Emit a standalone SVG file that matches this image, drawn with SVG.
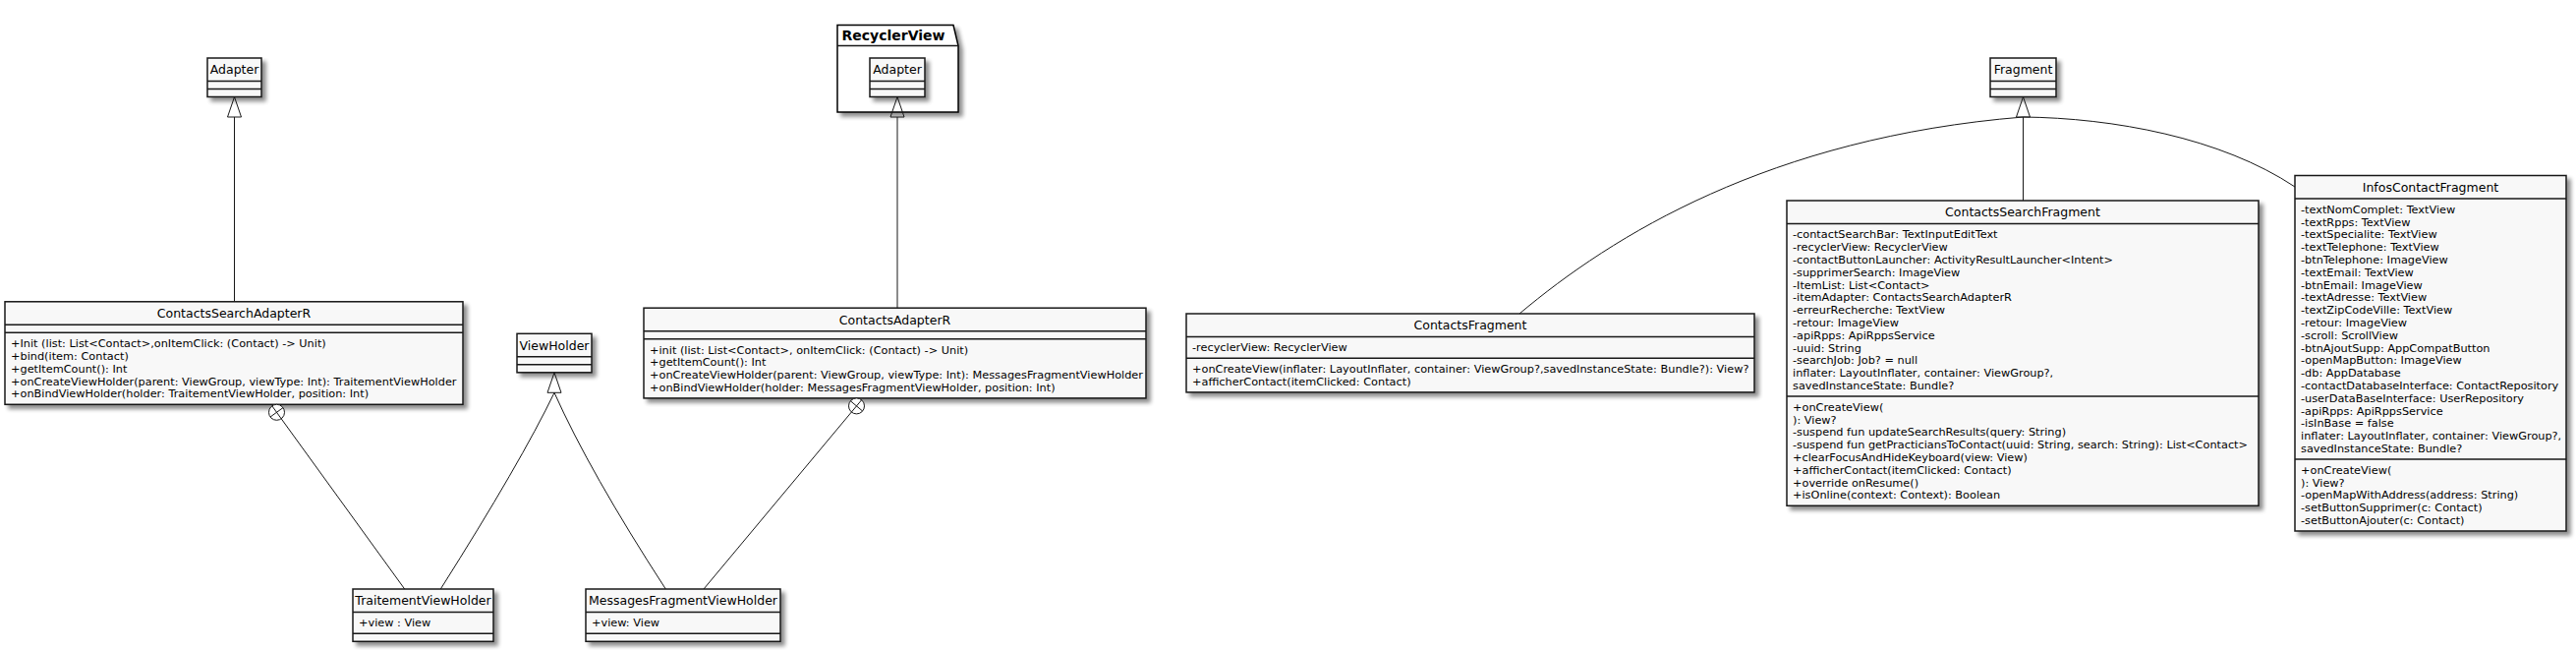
<svg xmlns="http://www.w3.org/2000/svg" width="2621" height="661" viewBox="0 0 2621 661">
<defs>
<filter id="sh" x="-10%" y="-10%" width="130%" height="140%">
<feGaussianBlur in="SourceAlpha" stdDeviation="2"/>
<feOffset dx="4" dy="4" result="o"/>
<feComponentTransfer><feFuncA type="linear" slope="0.45"/></feComponentTransfer>
<feMerge><feMergeNode/><feMergeNode in="SourceGraphic"/></feMerge>
</filter>
<style>
.box{fill:#F8F8F8;stroke:#181818;stroke-width:1.5}
.dv{stroke:#181818;stroke-width:1.5}
.nm{font-family:"DejaVu Sans",sans-serif;font-size:12.5px;text-anchor:middle;fill:#000}
.mb{font-family:"DejaVu Sans",sans-serif;font-size:11.3px;fill:#000}
.ln{fill:none;stroke:#181818;stroke-width:1}
.ah{fill:none;stroke:#181818;stroke-width:1}
.pk{fill:#FFFFFF;stroke:#000;stroke-width:1.5}
.pt{font-family:"DejaVu Sans",sans-serif;font-size:14px;font-weight:bold;fill:#000}
</style>
</defs>
<rect width="2621" height="661" fill="#FFFFFF"/>

<g id="pkg-RecyclerView">
<path class="pk" filter="url(#sh)" d="M852,25.5 L970,25.5 L975,46.5 L975,114 L852,114 Z"/>
<line class="dv" x1="852" y1="46.5" x2="975" y2="46.5"/>
<text class="pt" x="856.5" y="40.5">RecyclerView</text>
</g>

<g id="Adapter">
<rect class="box" filter="url(#sh)" x="211" y="59" width="55" height="39.5"/>
<line class="dv" x1="211" y1="82.5" x2="266" y2="82.5"/>
<line class="dv" x1="211" y1="90.5" x2="266" y2="90.5"/>
<text class="nm" x="238.5" y="75.3">Adapter</text>
</g>

<g id="RecyclerView.Adapter">
<rect class="box" filter="url(#sh)" x="885" y="59" width="56" height="39.5"/>
<line class="dv" x1="885" y1="82.5" x2="941" y2="82.5"/>
<line class="dv" x1="885" y1="90.5" x2="941" y2="90.5"/>
<text class="nm" x="913" y="75.3">Adapter</text>
</g>

<g id="Fragment">
<rect class="box" filter="url(#sh)" x="2025" y="59" width="67" height="39.5"/>
<line class="dv" x1="2025" y1="82.5" x2="2092" y2="82.5"/>
<line class="dv" x1="2025" y1="90.5" x2="2092" y2="90.5"/>
<text class="nm" x="2058.5" y="75.3">Fragment</text>
</g>

<g id="ViewHolder">
<rect class="box" filter="url(#sh)" x="526" y="339.3" width="76" height="39.5"/>
<line class="dv" x1="526" y1="362.8" x2="602" y2="362.8"/>
<line class="dv" x1="526" y1="370.8" x2="602" y2="370.8"/>
<text class="nm" x="564" y="355.6">ViewHolder</text>
</g>

<g id="ContactsSearchAdapterR">
<rect class="box" filter="url(#sh)" x="5" y="306.8" width="466" height="104.5"/>
<line class="dv" x1="5" y1="330.3" x2="471" y2="330.3"/>
<line class="dv" x1="5" y1="338.3" x2="471" y2="338.3"/>
<text class="nm" x="238" y="323.1">ContactsSearchAdapterR</text>
<text class="mb" x="11" y="353.1">+Init (list: List&lt;Contact&gt;,onItemClick: (Contact) -&gt; Unit)</text>
<text class="mb" x="11" y="365.9">+bind(item: Contact)</text>
<text class="mb" x="11" y="378.7">+getItemCount(): Int</text>
<text class="mb" x="11" y="391.5">+onCreateViewHolder(parent: ViewGroup, viewType: Int): TraitementViewHolder</text>
<text class="mb" x="11" y="404.3">+onBindViewHolder(holder: TraitementViewHolder, position: Int)</text>
</g>

<g id="ContactsAdapterR">
<rect class="box" filter="url(#sh)" x="655" y="313.2" width="511" height="91.7"/>
<line class="dv" x1="655" y1="336.7" x2="1166" y2="336.7"/>
<line class="dv" x1="655" y1="344.7" x2="1166" y2="344.7"/>
<text class="nm" x="910.5" y="329.5">ContactsAdapterR</text>
<text class="mb" x="661" y="359.5">+init (list: List&lt;Contact&gt;, onItemClick: (Contact) -&gt; Unit)</text>
<text class="mb" x="661" y="372.3">+getItemCount(): Int</text>
<text class="mb" x="661" y="385.1">+onCreateViewHolder(parent: ViewGroup, viewType: Int): MessagesFragmentViewHolder</text>
<text class="mb" x="661" y="397.9">+onBindViewHolder(holder: MessagesFragmentViewHolder, position: Int)</text>
</g>

<g id="TraitementViewHolder">
<rect class="box" filter="url(#sh)" x="359" y="599" width="143" height="53.3"/>
<line class="dv" x1="359" y1="622.5" x2="502" y2="622.5"/>
<line class="dv" x1="359" y1="644.3" x2="502" y2="644.3"/>
<text class="nm" x="430.5" y="615.3">TraitementViewHolder</text>
<text class="mb" x="365" y="637.3">+view : View</text>
</g>

<g id="MessagesFragmentViewHolder">
<rect class="box" filter="url(#sh)" x="596" y="599" width="198" height="53.3"/>
<line class="dv" x1="596" y1="622.5" x2="794" y2="622.5"/>
<line class="dv" x1="596" y1="644.3" x2="794" y2="644.3"/>
<text class="nm" x="695" y="615.3">MessagesFragmentViewHolder</text>
<text class="mb" x="602" y="637.3">+view: View</text>
</g>

<g id="ContactsFragment">
<rect class="box" filter="url(#sh)" x="1207" y="319" width="578" height="79.9"/>
<line class="dv" x1="1207" y1="342.5" x2="1785" y2="342.5"/>
<line class="dv" x1="1207" y1="364.3" x2="1785" y2="364.3"/>
<text class="nm" x="1496" y="335.3">ContactsFragment</text>
<text class="mb" x="1213" y="357.3">-recyclerView: RecyclerView</text>
<text class="mb" x="1213" y="379.1">+onCreateView(inflater: LayoutInflater, container: ViewGroup?,savedInstanceState: Bundle?): View?</text>
<text class="mb" x="1213" y="391.9">+afficherContact(itemClicked: Contact)</text>
</g>

<g id="ContactsSearchFragment">
<rect class="box" filter="url(#sh)" x="1818" y="204" width="480" height="310.3"/>
<line class="dv" x1="1818" y1="227.5" x2="2298" y2="227.5"/>
<line class="dv" x1="1818" y1="402.9" x2="2298" y2="402.9"/>
<text class="nm" x="2058" y="220.3">ContactsSearchFragment</text>
<text class="mb" x="1824" y="242.3">-contactSearchBar: TextInputEditText</text>
<text class="mb" x="1824" y="255.1">-recyclerView: RecyclerView</text>
<text class="mb" x="1824" y="267.9">-contactButtonLauncher: ActivityResultLauncher&lt;Intent&gt;</text>
<text class="mb" x="1824" y="280.7">-supprimerSearch: ImageView</text>
<text class="mb" x="1824" y="293.5">-ItemList: List&lt;Contact&gt;</text>
<text class="mb" x="1824" y="306.3">-itemAdapter: ContactsSearchAdapterR</text>
<text class="mb" x="1824" y="319.1">-erreurRecherche: TextView</text>
<text class="mb" x="1824" y="331.9">-retour: ImageView</text>
<text class="mb" x="1824" y="344.7">-apiRpps: ApiRppsService</text>
<text class="mb" x="1824" y="357.5">-uuid: String</text>
<text class="mb" x="1824" y="370.3">-searchJob: Job? = null</text>
<text class="mb" x="1824" y="383.1">inflater: LayoutInflater, container: ViewGroup?,</text>
<text class="mb" x="1824" y="395.9">savedInstanceState: Bundle?</text>
<text class="mb" x="1824" y="417.7">+onCreateView(</text>
<text class="mb" x="1824" y="430.5">): View?</text>
<text class="mb" x="1824" y="443.3">-suspend fun updateSearchResults(query: String)</text>
<text class="mb" x="1824" y="456.1">-suspend fun getPracticiansToContact(uuid: String, search: String): List&lt;Contact&gt;</text>
<text class="mb" x="1824" y="468.9">+clearFocusAndHideKeyboard(view: View)</text>
<text class="mb" x="1824" y="481.7">+afficherContact(itemClicked: Contact)</text>
<text class="mb" x="1824" y="494.5">+override onResume()</text>
<text class="mb" x="1824" y="507.3">+isOnline(context: Context): Boolean</text>
</g>

<g id="InfosContactFragment">
<rect class="box" filter="url(#sh)" x="2335" y="178.5" width="276" height="361.5"/>
<line class="dv" x1="2335" y1="202" x2="2611" y2="202"/>
<line class="dv" x1="2335" y1="467" x2="2611" y2="467"/>
<text class="nm" x="2473" y="194.8">InfosContactFragment</text>
<text class="mb" x="2341" y="216.8">-textNomComplet: TextView</text>
<text class="mb" x="2341" y="229.6">-textRpps: TextView</text>
<text class="mb" x="2341" y="242.4">-textSpecialite: TextView</text>
<text class="mb" x="2341" y="255.2">-textTelephone: TextView</text>
<text class="mb" x="2341" y="268">-btnTelephone: ImageView</text>
<text class="mb" x="2341" y="280.8">-textEmail: TextView</text>
<text class="mb" x="2341" y="293.6">-btnEmail: ImageView</text>
<text class="mb" x="2341" y="306.4">-textAdresse: TextView</text>
<text class="mb" x="2341" y="319.2">-textZipCodeVille: TextView</text>
<text class="mb" x="2341" y="332">-retour: ImageView</text>
<text class="mb" x="2341" y="344.8">-scroll: ScrollView</text>
<text class="mb" x="2341" y="357.6">-btnAjoutSupp: AppCompatButton</text>
<text class="mb" x="2341" y="370.4">-openMapButton: ImageView</text>
<text class="mb" x="2341" y="383.2">-db: AppDatabase</text>
<text class="mb" x="2341" y="396">-contactDatabaseInterface: ContactRepository</text>
<text class="mb" x="2341" y="408.8">-userDataBaseInterface: UserRepository</text>
<text class="mb" x="2341" y="421.6">-apiRpps: ApiRppsService</text>
<text class="mb" x="2341" y="434.4">-isInBase = false</text>
<text class="mb" x="2341" y="447.2">inflater: LayoutInflater, container: ViewGroup?,</text>
<text class="mb" x="2341" y="460">savedInstanceState: Bundle?</text>
<text class="mb" x="2341" y="481.8">+onCreateView(</text>
<text class="mb" x="2341" y="494.6">): View?</text>
<text class="mb" x="2341" y="507.4">-openMapWithAddress(address: String)</text>
<text class="mb" x="2341" y="520.2">-setButtonSupprimer(c: Contact)</text>
<text class="mb" x="2341" y="533">-setButtonAjouter(c: Contact)</text>
</g>

<g id="connectors">
<path class="ln" d="M238.5,119 L238.5,306.8"/>
<polygon class="ah" points="238.5,98.5 231.5,119 245.5,119"/>
<path class="ln" d="M913,119 L913,313.2"/>
<polygon class="ah" points="913,98.5 906,119 920,119"/>
<path class="ln" d="M564,399.3 Q530,470 448.3,599"/>
<path class="ln" d="M564,399.3 Q600,480 677.3,599"/>
<polygon class="ah" points="564,378.8 557,399.3 571,399.3"/>
<path class="ln" d="M2058.5,119 L2058.5,204"/>
<path class="ln" d="M2058.5,119 C1800,140 1640,240 1546,319"/>
<path class="ln" d="M2058.5,119 C2150,120 2260,140 2335,190"/>
<polygon class="ah" points="2058.5,98.5 2051.5,119 2065.5,119"/>
<circle class="ah" cx="281.5" cy="419.3" r="8" style="fill:#FFFFFF"/>
<line class="ln" x1="276.8" y1="412.8" x2="286.2" y2="425.8"/>
<line class="ln" x1="275" y1="424" x2="288" y2="414.6"/>
<path class="ln" d="M286.2,425.8 L411.7,599"/>
<circle class="ah" cx="871.5" cy="412.9" r="8" style="fill:#FFFFFF"/>
<line class="ln" x1="876.6" y1="406.8" x2="866.4" y2="419"/>
<line class="ln" x1="877.6" y1="418" x2="865.4" y2="407.8"/>
<path class="ln" d="M866.4,419 L716,599"/>
</g>
</svg>
